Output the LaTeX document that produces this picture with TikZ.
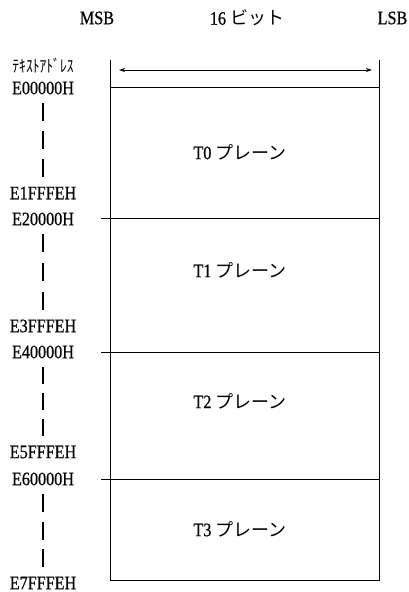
\documentclass[tikz,border=0pt]{standalone}
\usepackage{fontspec}
\setmainfont[FakeStretch=0.85,FakeBold=0.6]{Liberation Serif}
\newfontfamily\jp{Noto Sans CJK JP}
\newfontfamily\jph[FakeStretch=0.8]{Noto Sans CJK JP}
\usetikzlibrary{arrows.meta}
\begin{document}
\begin{tikzpicture}[x=1pt,y=-1pt,
  lbl/.style={inner sep=0pt,font=\fontsize{19}{19}\selectfont},
  addr/.style={inner sep=0pt,font=\fontsize{19}{19}\selectfont},
  plane/.style={inner sep=0pt,font=\fontsize{19}{19}\selectfont},
  frame/.style={line width=1pt},
  addrdash/.style 2 args={line width=1.3pt,dash pattern=on #1pt off #2pt},
  bitarrow/.style={line width=0.8pt,{Stealth[length=6pt,width=4pt]}-{Stealth[length=6pt,width=4pt]}}]
\useasboundingbox (0,0) rectangle (408,592);
% header
\node[lbl] (msb) at (97,18) {MSB};
\node[lbl] (bits) at (247,18) {16 {\jp\fontsize{18}{18}\selectfont ビット}};
\node[lbl,anchor=east] (lsb) at (407.5,18) {LSB};
% frame
\coordinate (tl) at (110,60);
\coordinate (tr) at (379,60);
\coordinate (bl) at (110,580);
\coordinate (br) at (379,580);
\draw[frame] (tl) -- (bl) -- (br) -- (tr);
\coordinate (al) at (119,70);
\coordinate (ar) at (372,70);
\draw[bitarrow] (al) -- (ar);
\coordinate (h0l) at (110,87);  \coordinate (h0r) at (379,87);
\coordinate (h1l) at (101,218); \coordinate (h1r) at (379,218);
\coordinate (h2l) at (101,352); \coordinate (h2r) at (379,352);
\coordinate (h3l) at (101,479); \coordinate (h3r) at (379,479);
\draw[frame] (h0l) -- (h0r);
\draw[frame] (h1l) -- (h1r);
\draw[frame] (h2l) -- (h2r);
\draw[frame] (h3l) -- (h3r);
% planes
\node[plane] (t0) at (240,152) {T0 {\jp\fontsize{18}{18}\selectfont プレーン}};
\node[plane] (t1) at (240,270) {T1 {\jp\fontsize{18}{18}\selectfont プレーン}};
\node[plane] (t2) at (240,401) {T2 {\jp\fontsize{18}{18}\selectfont プレーン}};
\node[plane] (t3) at (240,529) {T3 {\jp\fontsize{18}{18}\selectfont プレーン}};
% addresses
\node[lbl,font=\fontsize{17}{17}\jph] (ta) at (43,66) {ﾃｷｽﾄｱﾄﾞﾚｽ};
\node[addr] (a0) at (43,88) {E00000H};
\node[addr] (a1) at (43,193) {E1FFFEH};
\node[addr] (a2) at (43,219) {E20000H};
\node[addr] (a3) at (43,326) {E3FFFEH};
\node[addr] (a4) at (43,352) {E40000H};
\node[addr] (a5) at (43,452) {E5FFFEH};
\node[addr] (a6) at (43,479) {E60000H};
\node[addr] (a7) at (43,583) {E7FFFEH};
\draw[addrdash={18}{10}] ([yshift=-15pt]a0.center) -- ([yshift=16pt]a1.center);
\draw[addrdash={18}{11}] ([yshift=-15pt]a2.center) -- ([yshift=16pt]a3.center);
\draw[addrdash={17}{9}] ([yshift=-15pt]a4.center) -- ([yshift=16pt]a5.center);
\draw[addrdash={18}{9.5}] ([yshift=-15pt]a6.center) -- ([yshift=16pt]a7.center);
\end{tikzpicture}
\end{document}
